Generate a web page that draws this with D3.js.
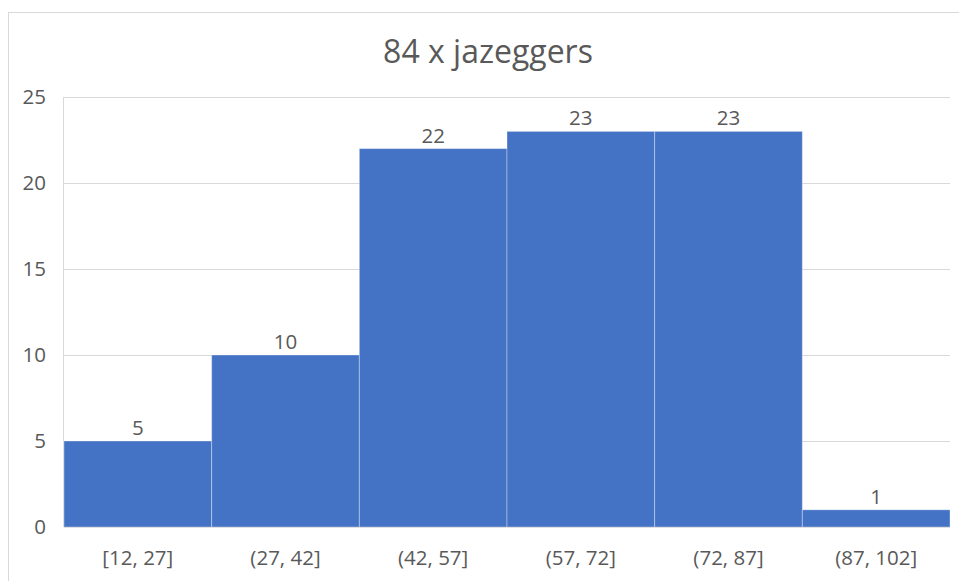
<!DOCTYPE html>
<html>
<head>
<meta charset="utf-8">
<script src="https://cdn.jsdelivr.net/npm/d3@7"></script>
<style>
  html, body { margin: 0; padding: 0; background: #fff; }
  svg { display: block; }
</style>
</head>
<body>
<svg id="chart" width="959" height="581"></svg>
<script>
// Histogram of ages: count of "ja" answers per bin
const title = "84 x jazeggers";
const bins = ["[12, 27]", "(27, 42]", "(42, 57]", "(57, 72]", "(72, 87]", "(87, 102]"];
const counts = [5, 10, 22, 23, 23, 1];
const yTicks = [0, 5, 10, 15, 20, 25];

const W = 959, H = 581;
const plot = { left: 64, right: 950, top: 97, bottom: 527 };
const font = "'Open Sans', 'Noto Sans', sans-serif";
const textColor = "#595959";
const gridColor = "#d9d9d9";
const barColor = "#4472C4";
const labelSize = 20.5;

const svg = d3.select("#chart");

// chart frame (top and left edges visible)
svg.append("line").attr("x1", 8).attr("x2", W).attr("y1", 12.5).attr("y2", 12.5)
  .attr("stroke", "#d9d9d9").attr("stroke-width", 1);
svg.append("line").attr("x1", 8.5).attr("x2", 8.5).attr("y1", 12).attr("y2", H)
  .attr("stroke", "#d9d9d9").attr("stroke-width", 1);

const x = d3.scaleBand().domain(bins).range([plot.left, plot.right]).padding(0);
const y = d3.scaleLinear().domain([0, 25]).range([plot.bottom, plot.top]);

// gridlines
svg.append("g").selectAll("line").data(yTicks).join("line")
  .attr("x1", plot.left).attr("x2", plot.right)
  .attr("y1", d => Math.round(y(d)) + 0.5).attr("y2", d => Math.round(y(d)) + 0.5)
  .attr("stroke", gridColor).attr("stroke-width", 1);

// left axis line
svg.append("line").attr("x1", plot.left - 0.5).attr("x2", plot.left - 0.5)
  .attr("y1", plot.top).attr("y2", plot.bottom)
  .attr("stroke", gridColor).attr("stroke-width", 1);

// y tick labels
const yAxis = d3.axisLeft(y).tickValues(yTicks).tickSize(0).tickPadding(18);
const gy = svg.append("g").attr("transform", `translate(${plot.left},0)`).call(yAxis);
gy.select(".domain").remove();
gy.selectAll("text").attr("font-family", font).attr("font-size", labelSize).attr("fill", textColor);

// x tick labels
const xAxis = d3.axisBottom(x).tickSize(0).tickPadding(23);
const gx = svg.append("g").attr("transform", `translate(0,${plot.bottom})`).call(xAxis);
gx.select(".domain").remove();
gx.selectAll("text").attr("font-family", font).attr("font-size", labelSize).attr("fill", textColor);

// bars
const data = bins.map((b, i) => ({ bin: b, count: counts[i] }));
svg.append("g").selectAll("rect").data(data).join("rect")
  .attr("x", d => x(d.bin))
  .attr("width", x.bandwidth())
  .attr("y", d => y(d.count))
  .attr("height", d => y(0) - y(d.count))
  .attr("fill", barColor)
  .attr("stroke", "rgba(255,255,255,0.35)")
  .attr("stroke-width", 1);

// value labels
svg.append("g").selectAll("text").data(data).join("text")
  .attr("x", d => x(d.bin) + x.bandwidth() / 2)
  .attr("y", d => y(d.count) - 6)
  .attr("text-anchor", "middle")
  .attr("font-family", font).attr("font-size", labelSize).attr("fill", textColor)
  .text(d => d.count);

// title
svg.append("text")
  .attr("x", 488).attr("y", 63)
  .attr("text-anchor", "middle")
  .attr("font-family", font).attr("font-size", 32).attr("fill", textColor)
  .text(title);
</script>
</body>
</html>
